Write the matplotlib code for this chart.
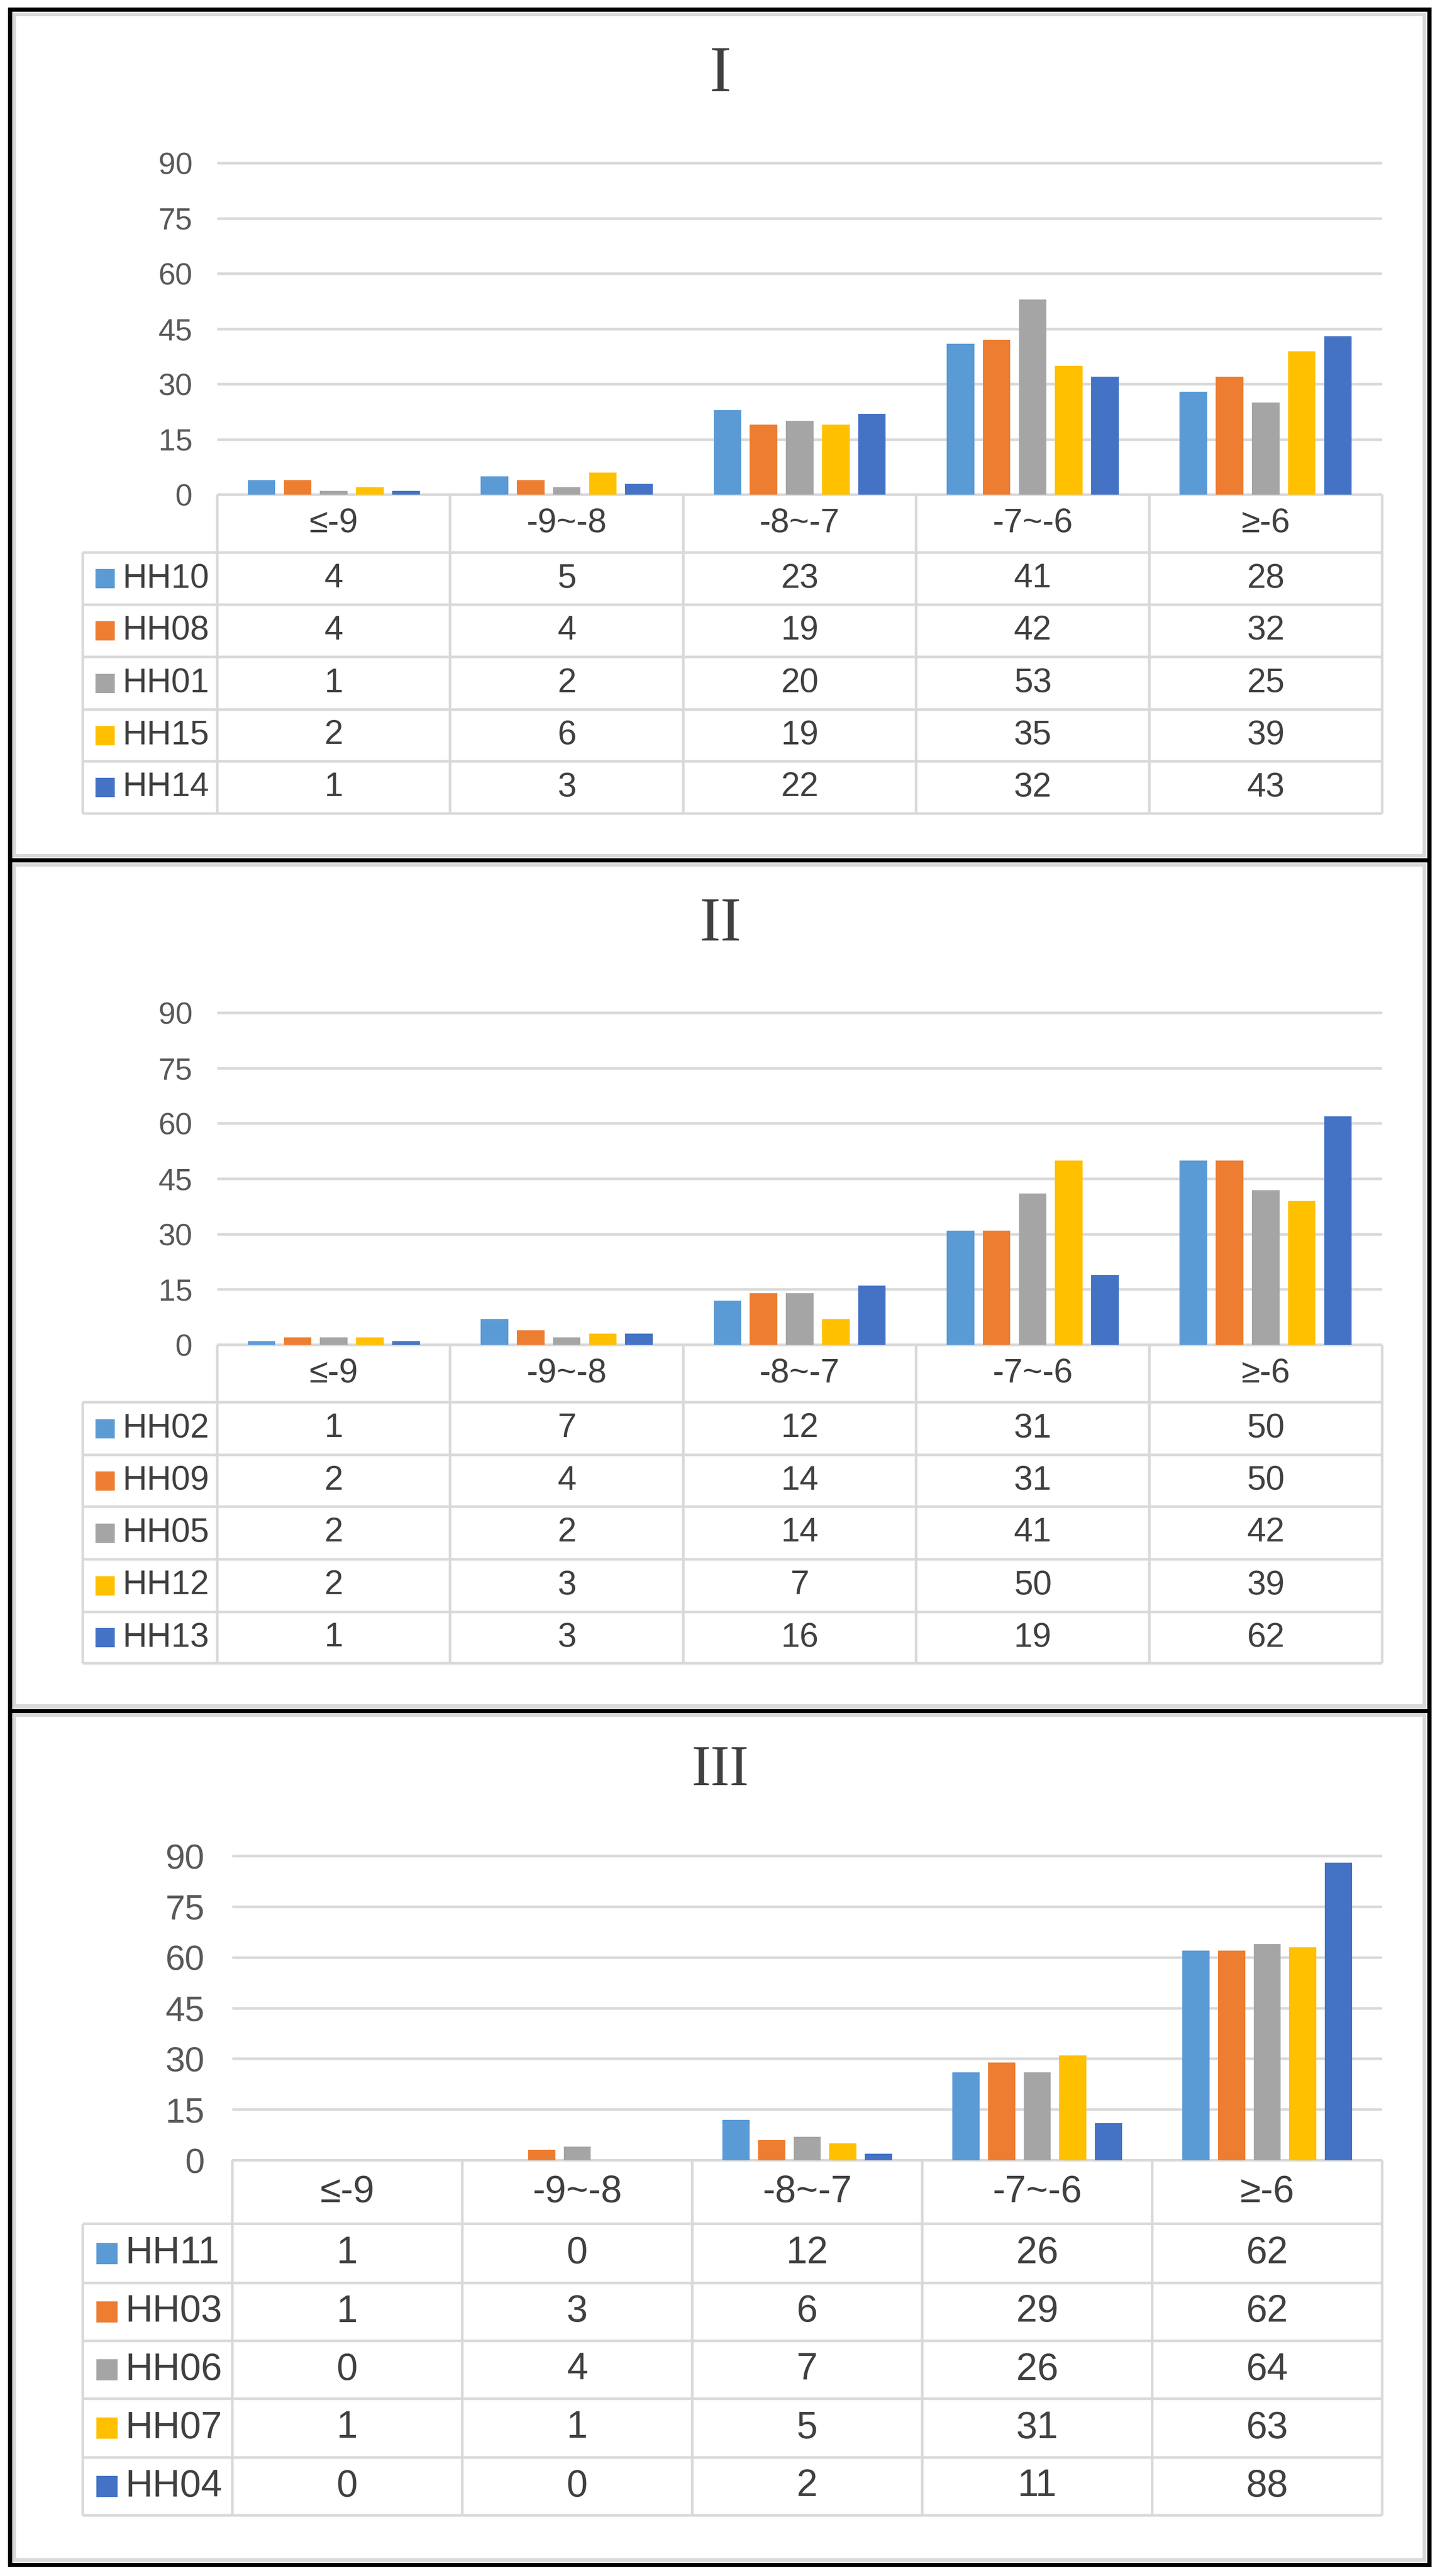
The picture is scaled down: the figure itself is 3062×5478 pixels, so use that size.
import matplotlib
matplotlib.use('Agg')
import matplotlib.pyplot as plt
from matplotlib.patches import Rectangle
import numpy as np

plt.rcParams['font.family'] = ['Liberation Sans', 'DejaVu Sans']

# ---------------- data ----------------
categories = ['≤-9', '-9~-8', '-8~-7', '-7~-6', '≥-6']
colors = ['#5B9BD5', '#ED7D31', '#A5A5A5', '#FFC000', '#4472C4']
yticks = [0, 15, 30, 45, 60, 75, 90]

title_I = 'I'
series_I = ['HH10', 'HH08', 'HH01', 'HH15', 'HH14']
values_I = [[4, 5, 23, 41, 28],
            [4, 4, 19, 42, 32],
            [1, 2, 20, 53, 25],
            [2, 6, 19, 35, 39],
            [1, 3, 22, 32, 43]]

title_II = 'II'
series_II = ['HH02', 'HH09', 'HH05', 'HH12', 'HH13']
values_II = [[1, 7, 12, 31, 50],
             [2, 4, 14, 31, 50],
             [2, 2, 14, 41, 42],
             [2, 3, 7, 50, 39],
             [1, 3, 16, 19, 62]]

title_III = 'III'
series_III = ['HH11', 'HH03', 'HH06', 'HH07', 'HH04']
values_III = [[1, 0, 12, 26, 62],
              [1, 3, 6, 29, 62],
              [0, 4, 7, 26, 64],
              [1, 1, 5, 31, 63],
              [0, 0, 2, 11, 88]]
# bar heights as drawn in panel III (the plotted bars omit the smallest values)
bars_III = [[0, 0, 12, 26, 62],
            [0, 3, 6, 29, 62],
            [0, 4, 7, 26, 64],
            [0, 0, 5, 31, 63],
            [0, 0, 2, 11, 88]]

# ---------------- layout (pixels) ----------------
W, H = 3062, 5478
fig = plt.figure(figsize=(W / 100, H / 100), dpi=100)
fig.patch.set_facecolor('white')

ov = fig.add_axes([0, 0, 1, 1])
ov.set_xlim(0, W)
ov.set_ylim(H, 0)
ov.axis('off')
ov.set_zorder(0)

PX = 72 / 100.0  # points per pixel
GRID = '#D9D9D9'
TXT = '#404040'

panels = [
    dict(title=title_I, series=series_I, values=values_I, bars=values_I,
         xl=462, xr=2939, y90=347, y0=1052,
         rows=[1052, 1175, 1286, 1397, 1509, 1619, 1730],
         ty=160, tsize=100, tick=47, tab=52, pad=38, leg_left=176,
         sq_x=203, sq=41, lab_x=260, top=20, bottom=1829),
    dict(title=title_II, series=series_II, values=values_II, bars=values_II,
         xl=462, xr=2939, y90=2154, y0=2860,
         rows=[2860, 2982, 3094, 3204, 3316, 3428, 3537],
         ty=1968, tsize=96, tick=47, tab=52, pad=38, leg_left=176,
         sq_x=203, sq=41, lab_x=260, top=1829, bottom=3637.5),
    dict(title=title_III, series=series_III, values=values_III, bars=bars_III,
         xl=494, xr=2939, y90=3947, y0=4594,
         rows=[4594, 4729, 4855, 4978, 5101, 5226, 5349],
         ty=3766, tsize=88, tick=54, tab=58, pad=43, leg_left=176,
         sq_x=205, sq=45, lab_x=266, top=3637.5, bottom=5453.5),
]

step = 0.155
bw = 0.118
x = np.arange(len(categories))

for p in panels:
    ytop = 92.0
    h_px = (p['y0'] - p['y90']) * ytop / 90.0
    ax = fig.add_axes([p['xl'] / W, 1 - p['y0'] / H,
                       (p['xr'] - p['xl']) / W, h_px / H])
    ax.set_zorder(2)
    ax.patch.set_alpha(0)
    ax.set_xlim(-0.5, len(categories) - 0.5)
    ax.set_ylim(0, ytop)
    for s in ax.spines.values():
        s.set_visible(False)
    ax.set_yticks(yticks)
    ax.set_yticklabels([str(t) for t in yticks])
    ax.set_xticks([])
    ax.tick_params(axis='y', length=0, labelsize=p['tick'], labelcolor='#595959', pad=p['pad'])
    ax.yaxis.grid(True, color=GRID, linewidth=5.5 * PX)
    ax.set_axisbelow(True)
    for j, (name, vals) in enumerate(zip(p['series'], p['bars'])):
        ax.bar(x + (j - 2) * step, vals, width=bw, color=colors[j], zorder=3)

    # title
    ov.text(1532, p['ty'], p['title'], ha='center', va='center',
            fontsize=p['tsize'], color=TXT, family=['Liberation Serif', 'DejaVu Serif'])

    # data table
    xl, xr, rows = p['xl'], p['xr'], p['rows']
    cw = (xr - xl) / len(categories)
    lw = 5.5 * PX
    ov.plot([xl, xr], [rows[0], rows[0]], color=GRID, lw=lw, solid_capstyle='butt', zorder=1)
    for r in rows[1:]:
        ov.plot([p['leg_left'], xr], [r, r], color=GRID, lw=lw, solid_capstyle='butt', zorder=1)
    for k in range(len(categories) + 1):
        xe = xl + k * cw
        ov.plot([xe, xe], [rows[0], rows[-1]], color=GRID, lw=lw, solid_capstyle='butt', zorder=1)
    ov.plot([p['leg_left'], p['leg_left']], [rows[1], rows[-1]], color=GRID, lw=lw,
            solid_capstyle='butt', zorder=1)

    # header
    hy = (rows[0] + rows[1]) / 2
    for i, c in enumerate(categories):
        ov.text(xl + (i + 0.5) * cw, hy, c, ha='center', va='center',
                fontsize=p['tab'], color=TXT)
    # rows
    for j, (name, vals) in enumerate(zip(p['series'], p['values'])):
        ry = (rows[j + 1] + rows[j + 2]) / 2
        ov.add_patch(Rectangle((p['sq_x'], ry - p['sq'] / 2), p['sq'], p['sq'],
                               facecolor=colors[j], edgecolor='none', zorder=2))
        ov.text(p['lab_x'], ry, name, ha='left', va='center', fontsize=p['tab'], color=TXT)
        for i, v in enumerate(vals):
            ov.text(xl + (i + 0.5) * cw, ry, str(v), ha='center', va='center',
                    fontsize=p['tab'], color=TXT)

    # light gray inner chart border
    ov.add_patch(Rectangle((30, p['top'] + 9.5), 3029 - 30, (p['bottom'] - 9.5) - (p['top'] + 9.5),
                           facecolor='none', edgecolor=GRID, lw=8 * PX, zorder=1))

# black frame and dividers
ov.add_patch(Rectangle((21, 20), 3038.5 - 21, 5453.5 - 20, facecolor='none',
                       edgecolor='black', lw=9 * PX, zorder=5))
for yd in [1829, 3637.5]:
    ov.plot([21, 3038.5], [yd, yd], color='black', lw=9 * PX, solid_capstyle='butt', zorder=5)

fig.savefig('out.png', dpi=100, facecolor='white')
